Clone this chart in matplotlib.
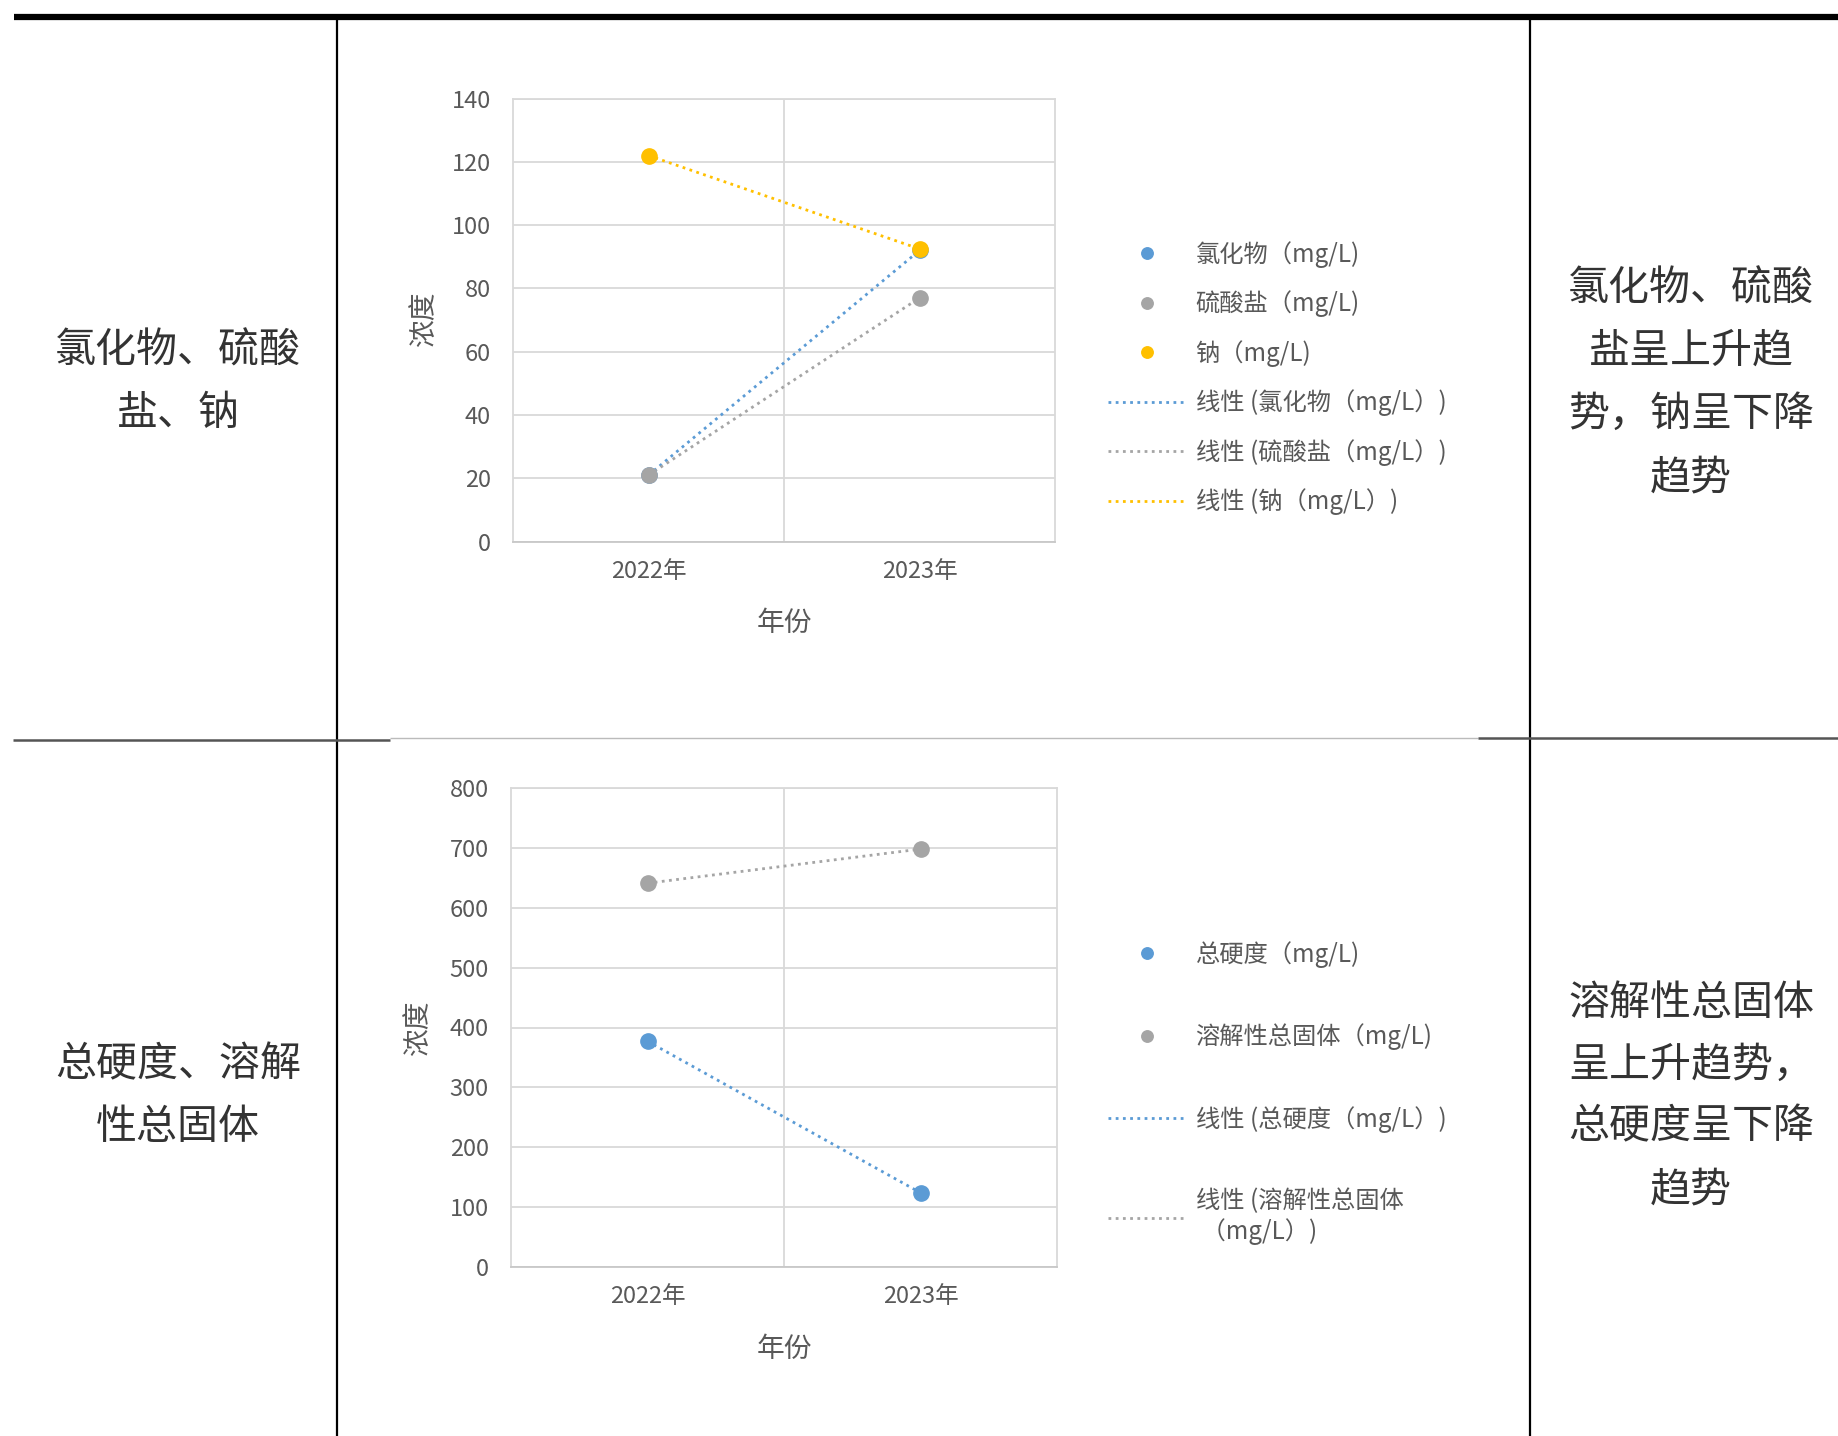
import numpy as np
import matplotlib
matplotlib.use("Agg")
import matplotlib.pyplot as plt
from matplotlib.lines import Line2D

plt.rcParams['font.family'] = ['Noto Sans CJK SC', 'DejaVu Sans']

W, H = 1838, 1436

# data
years = ['2022年', '2023年']
chloride = [21, 92]
sulfate = [21, 77]
sodium = [122, 92.5]
hardness = [377, 124]
tds = [641, 698]

labels1 = ['氯化物（mg/L)', '硫酸盐（mg/L)', '钠（mg/L)']
labels2 = ['总硬度（mg/L)', '溶解性总固体（mg/L)']
trend1 = ['线性 (氯化物（mg/L）)', '线性 (硫酸盐（mg/L）)', '线性 (钠（mg/L）)']
trend2 = ['线性 (总硬度（mg/L）)', '线性 (溶解性总固体\n （mg/L）)']

blue = '#5B9BD5'
gray = '#A5A5A5'
gold = '#FFC000'
txt = '#595959'

left_text = [['氯化物、硫酸', '盐、钠'], ['总硬度、溶解', '性总固体']]
right_text = [['氯化物、硫酸', '盐呈上升趋', '势，钠呈下降', '趋势'],
              ['溶解性总固体', '呈上升趋势，', '总硬度呈下降', '趋势']]

fig = plt.figure(figsize=(W / 100, H / 100), dpi=100)


def px(x, y):
    return x / W, 1 - y / H


def rule(x0, x1, y0, y1, lw, color='black'):
    a, b = px(x0, y0)
    c, d = px(x1, y1)
    fig.add_artist(Line2D([a, c], [b, d], transform=fig.transFigure, lw=lw, color=color,
                          solid_capstyle='butt'))


# table lines
rule(14, W, 17, 17, 4.5)
rule(337, 337, 17, H, 1.6)
rule(1530, 1530, 17, H, 1.6)
rule(13, 390, 740, 740, 1.8, '#555555')
rule(390, 1478, 738, 738, 1.0, '#bbbbbb')
rule(1478, W, 738, 738, 1.8, '#555555')

# table text
for rows, ys in zip(left_text, [[351, 414], [1065, 1127]]):
    for s, y in zip(rows, ys):
        fig.text(*px(178, y), s, ha='center', va='center', fontsize=29.5, color='#333333')
for rows, ys in zip(right_text, [[289, 351, 414, 478], [1003, 1065, 1127, 1190]]):
    for s, y in zip(rows, ys):
        fig.text(*px(1691, y), s, ha='center', va='center', fontsize=29.5, color='#333333')


def chart(rect, series, colors, labels, tlabels, ymax, ystep, leg_y, lspace, ylab_xy, xlab_y):
    ax = fig.add_axes(rect)
    x = np.arange(len(years))
    pts = []
    for y, c, lab in zip(series, colors, labels):
        h, = ax.plot(x, y, 'o', color=c, ms=11, label=lab, zorder=3)
        pts.append(h)
    lines = []
    for y, c, lab in zip(series, colors, tlabels):
        k, b = np.polyfit(x, y, 1)
        h, = ax.plot(x, k * x + b, linestyle=(0, (1, 1.6)), lw=2, color=c, label=lab, zorder=2)
        lines.append(h)
    ax.set_xlim(-0.5, 1.5)
    ax.set_ylim(0, ymax)
    ax.set_yticks(np.arange(0, ymax + 1, ystep))
    ax.set_xticks(x)
    ax.set_xticklabels(years)
    ax.set_xticks([0.5], minor=True)
    ax.grid(axis='y', color='#D9D9D9', lw=1.3)
    ax.grid(axis='x', which='minor', color='#D9D9D9', lw=1.3)
    ax.set_axisbelow(True)
    ax.tick_params(axis='both', which='both', length=0, labelsize=17, labelcolor=txt)
    ax.tick_params(axis='x', pad=13)
    ax.tick_params(axis='y', pad=16)
    for s in ax.spines.values():
        s.set_color('#D9D9D9')
        s.set_linewidth(1.3)
    ax.spines['bottom'].set_color('#C8C8C8')
    ax.set_ylabel('浓度', fontsize=20, color=txt, va='center')
    ax.yaxis.set_label_coords(*ylab_xy)
    ax.set_xlabel('年份', fontsize=20, color=txt, va='center')
    ax.xaxis.set_label_coords(0.5, xlab_y)
    ax.legend(pts + lines, labels + tlabels, loc='center left',
              bbox_to_anchor=px(1108, leg_y), bbox_transform=fig.transFigure,
              frameon=False, fontsize=17.5, labelcolor=txt, handlelength=3.2,
              handletextpad=0.4, borderpad=0, borderaxespad=0,
              labelspacing=lspace, markerscale=0.75)
    return ax


chart([513 / W, 1 - 541.6 / H, 542 / W, 443 / H],
      [chloride, sulfate, sodium], [blue, gray, gold], labels1, trend1,
      140, 20, 378, 0.935, (-0.164, 0.502), -0.1845)
chart([511 / W, 1 - 1267 / H, 546 / W, 479 / H],
      [hardness, tds], [blue, gray], labels2, trend2,
      800, 100, 1093, 2.5 * 16 / 17.5, (-0.170, 0.499), -0.172)

fig.savefig('out.png', dpi=100)
